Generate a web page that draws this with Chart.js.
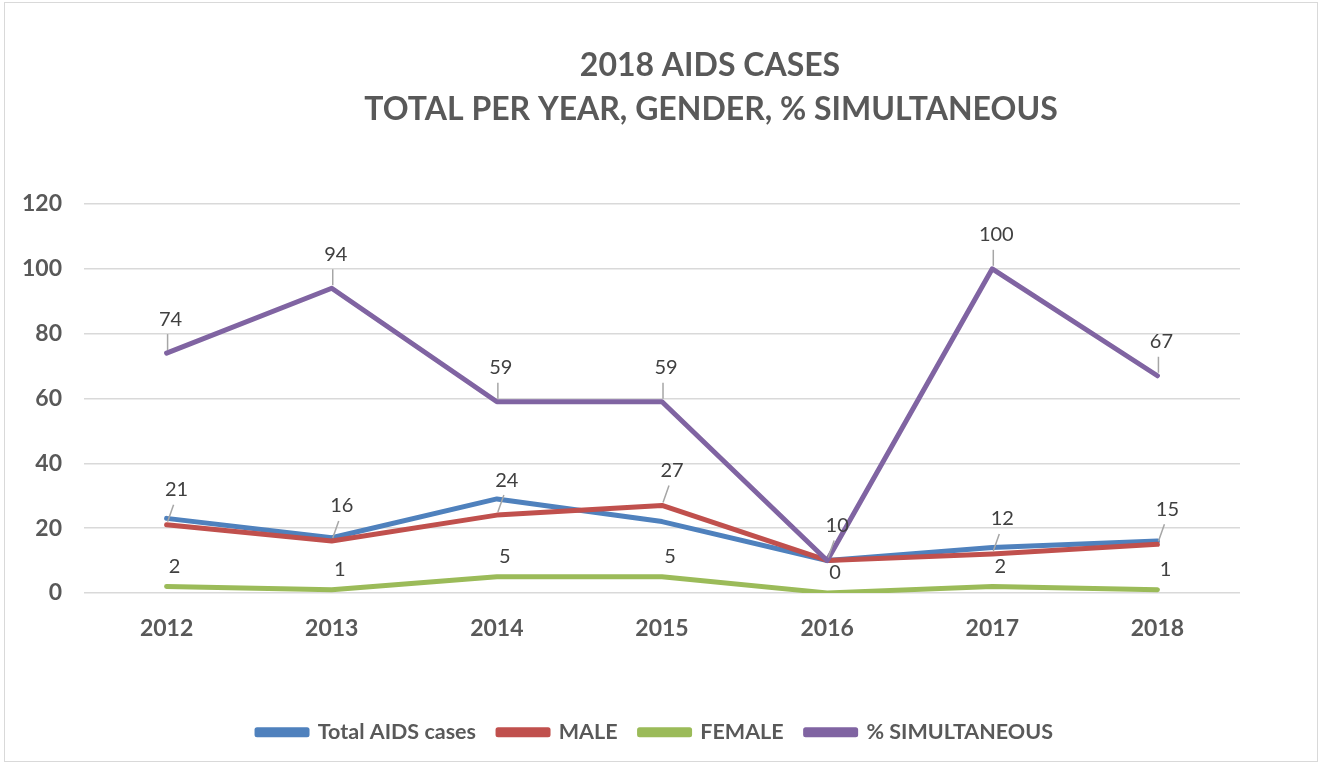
<!DOCTYPE html>
<html>
<head>
<meta charset="utf-8">
<script src="https://cdn.jsdelivr.net/npm/chart.js@4.4.0/dist/chart.umd.min.js"></script>
<style>
  body { margin: 0; background: #fff; }
  #wrap { position: absolute; left: 4px; top: 2px; width: 1314px; height: 760px; border: 1px solid #d9d9d9; box-sizing: border-box; }
</style>
</head>
<body>
<div id="wrap"><canvas id="aidsChart"></canvas></div>
<script>
var years = ['2012', '2013', '2014', '2015', '2016', '2017', '2018'];
var totalCases = [23, 17, 29, 22, 10, 14, 16];
var maleCases = [21, 16, 24, 27, 10, 12, 15];
var femaleCases = [2, 1, 5, 5, 0, 2, 1];
var pctSimultaneous = [74, 94, 59, 59, 10, 100, 67];
var titleLines = ['2018 AIDS CASES', 'TOTAL PER YEAR, GENDER, % SIMULTANEOUS'];

var fontName = "Lato, 'Open Sans', sans-serif";

// title drawn by hand so it can sit right of centre like the original
var titleText = {
    id: 'titleText',
    afterDraw: function (chart) {
        var ctx = chart.ctx;
        ctx.save();
        ctx.font = 'bold 32px ' + fontName;
        ctx.fillStyle = '#595959';
        ctx.textAlign = 'center';
        ctx.textBaseline = 'middle';
        ctx.fillText(titleLines[0], 705, 63);
        ctx.fillText(titleLines[1], 706, 107);
        ctx.restore();
    }
};

// legend in the original is shifted right of the canvas centre
var legendShift = {
    id: 'legendShift',
    afterLayout: function (chart) {
        chart.legend.left += 35;
        chart.legend.right += 35;
    }
};

// value labels with small leader lines, like the spreadsheet original
var valueLabels = {
    id: 'valueLabels',
    afterDatasetsDraw: function (chart) {
        var ctx = chart.ctx;
        var drawn = [];
        ctx.save();
        ctx.font = '20px ' + fontName;
        ctx.fillStyle = '#404040';
        ctx.textAlign = 'center';
        ctx.textBaseline = 'middle';
        chart.data.datasets.forEach(function (ds, i) {
            if (!ds.showLabels) return;
            var meta = chart.getDatasetMeta(i);
            meta.data.forEach(function (pt, j) {
                var lx = pt.x + ds.labelDx, ly = pt.y + ds.labelDy;
                var txt = String(ds.data[j]);
                var dup = drawn.some(function (d) {
                    return d.t === txt && Math.abs(d.x - pt.x) < 20 && Math.abs(d.y - pt.y) < 20;
                });
                if (dup) return;
                drawn.push({ t: txt, x: pt.x, y: pt.y });
                if (ds.leader) {
                    ctx.strokeStyle = '#a6a6a6';
                    ctx.lineWidth = 1.5;
                    ctx.beginPath();
                    ctx.moveTo(pt.x + 1, pt.y - 3);
                    ctx.lineTo(lx - 3, ly + 15);
                    ctx.stroke();
                }
                ctx.fillText(txt, lx, ly);
            });
        });
        ctx.restore();
    }
};

var ctx = document.getElementById('aidsChart').getContext('2d');
var aidsChart = new Chart(ctx, {
    type: 'line',
    data: {
        labels: years,
        datasets: [{
            label: 'Total AIDS cases',
            data: totalCases,
            borderColor: '#4f81bd',
            backgroundColor: '#4f81bd',
            order: 4
        }, {
            label: 'MALE',
            data: maleCases,
            borderColor: '#c0504d',
            backgroundColor: '#c0504d',
            order: 3,
            showLabels: true, leader: true, labelDx: 10, labelDy: -35
        }, {
            label: 'FEMALE',
            data: femaleCases,
            borderColor: '#9bbb59',
            backgroundColor: '#9bbb59',
            order: 2,
            showLabels: true, leader: false, labelDx: 8, labelDy: -20
        }, {
            label: '% SIMULTANEOUS',
            data: pctSimultaneous,
            borderColor: '#8064a2',
            backgroundColor: '#8064a2',
            order: 1,
            showLabels: true, leader: true, labelDx: 4, labelDy: -34
        }]
    },
    options: {
        responsive: true,
        maintainAspectRatio: false,
        animation: false,
        elements: {
            line: { borderWidth: 5, tension: 0, borderCapStyle: 'round', borderJoinStyle: 'round' },
            point: { radius: 0, hoverRadius: 0 }
        },
        layout: { padding: { left: -5, right: 77, top: 201, bottom: 8 } },
        scales: {
            x: {
                offset: true,
                grid: { display: false },
                border: { display: false },
                ticks: { color: '#595959', font: { family: fontName, size: 23, weight: 'bold' }, padding: 14 },
                afterFit: function (scale) { scale.height += 43; }
            },
            y: {
                min: 0,
                max: 120,
                ticks: { stepSize: 20, color: '#595959', font: { family: fontName, size: 23, weight: 'bold' }, padding: 22 },
                grid: { color: '#d9d9d9', lineWidth: 1.5, drawTicks: false },
                border: { display: false }
            }
        },
        plugins: {
            title: { display: false },
            legend: {
                position: 'bottom',
                labels: {
                    color: '#595959',
                    font: { family: fontName, size: 21.5, weight: 'bold' },
                    boxWidth: 50,
                    boxHeight: 5,
                    padding: 22,
                    sort: function (a, b) { return a.datasetIndex - b.datasetIndex; }
                }
            },
            tooltip: { enabled: false }
        }
    },
    plugins: [valueLabels, titleText, legendShift]
});
</script>
</body>
</html>
